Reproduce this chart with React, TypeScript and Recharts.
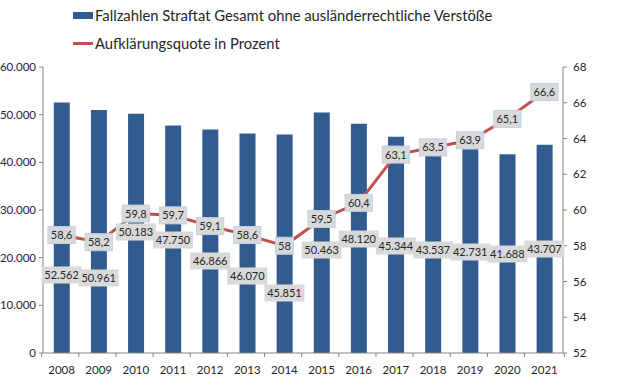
import {
  ComposedChart,
  Bar,
  Line,
  XAxis,
  YAxis,
  LabelList
} from 'recharts';

const years = ['2008', '2009', '2010', '2011', '2012', '2013', '2014', '2015', '2016', '2017', '2018', '2019', '2020', '2021'];
const cases = [52562, 50961, 50183, 47750, 46866, 46070, 45851, 50463, 48120, 45344, 43537, 42731, 41688, 43707];
const quote = [58.6, 58.2, 59.8, 59.7, 59.1, 58.6, 58, 59.5, 60.4, 63.1, 63.5, 63.9, 65.1, 66.6];
const leftTicks = [0, 10000, 20000, 30000, 40000, 50000, 60000];
const rightTicks = [52, 54, 56, 58, 60, 62, 64, 66, 68];

// hand placed label rows (pixel centre), like the excel original
const caseLabelY = [275, 278, 232, 240, 261, 276, 293, 250, 239, 246, 250, 252, 254, 249];

const data = years.map((y, i) => ({ year: y, cases: cases[i], quote: quote[i] }));

const FONT = 'Lato, "Open Sans", sans-serif';
const AXIS = '#868686';
const BLUE = '#325C8F';
const RED = '#C0504D';
const LABEL_FS = 11;

const PLOT_LEFT = 43;
const PLOT_RIGHT = 600;
const BAND = (PLOT_RIGHT - PLOT_LEFT) / years.length;

const fmt = (v: number) => v.toLocaleString('de-DE');
const fmtPct = (v: number) => String(v).replace('.', ',');

// rough text width for the label boxes
const textW = (s: string) =>
  s.split('').reduce((w, c) => w + (/[0-9]/.test(c) ? 0.58 : 0.28) * LABEL_FS, 0);

function Box({ cx, cy, text, border }: { cx: number; cy: number; text: string; border?: boolean }) {
  const w = textW(text) + 5;
  const h = 17;
  return (
    <g>
      <rect
        x={cx - w / 2}
        y={cy - h / 2}
        width={w}
        height={h}
        fill="#D9D9D9"
        stroke={border ? '#BFD0E6' : 'none'}
        strokeWidth={1}
      />
      <text x={cx} y={cy + 4} textAnchor="middle" fontSize={LABEL_FS} fontFamily={FONT} fill="#262626">
        {text}
      </text>
    </g>
  );
}

const QuoteLabel = (props: any) => {
  const { x, y, value } = props;
  return <Box cx={x} cy={y} text={fmtPct(value)} border />;
};

// drawn from an invisible line on the left axis so the boxes sit above the red line
const CaseLabel = (props: any) => {
  const { x, value, index } = props;
  return <Box cx={x} cy={caseLabelY[index]} text={fmt(value)} />;
};

const XTick = (props: any) => {
  const { x, y, payload, index } = props;
  const left = x - BAND / 2;
  return (
    <g>
      <line x1={left} y1={y - 8} x2={left} y2={y - 4} stroke={AXIS} />
      {index === years.length - 1 && (
        <line x1={x + BAND / 2} y1={y - 8} x2={x + BAND / 2} y2={y - 4} stroke={AXIS} />
      )}
      <text x={x} y={y + 13} textAnchor="middle" fontSize={11.5} fontFamily={FONT} fill="#262626">
        {payload.value}
      </text>
    </g>
  );
};

export default function App() {
  return (
    <div style={{ position: 'fixed', left: 0, top: 0, width: 637, height: 386, background: '#fff' }}>
      <div
        style={{
          position: 'absolute',
          left: 73,
          top: 1,
          fontFamily: FONT,
          fontSize: 14.8,
          color: '#262626',
          lineHeight: '28px'
        }}
      >
        <div style={{ display: 'flex', alignItems: 'center' }}>
          <span style={{ display: 'inline-block', width: 20, height: 7, background: BLUE, marginRight: 2 }} />
          Fallzahlen Straftat Gesamt ohne ausländerrechtliche Verstöße
        </div>
        <div style={{ display: 'flex', alignItems: 'center' }}>
          <span style={{ display: 'inline-block', width: 20, height: 3, background: RED, marginRight: 2 }} />
          Aufklärungsquote in Prozent
        </div>
      </div>
      <ComposedChart
        width={637}
        height={386}
        data={data}
        margin={{ top: 67, right: 637 - PLOT_RIGHT, left: 0, bottom: 3 }}
        barCategoryGap="29%"
      >
        <XAxis
          dataKey="year"
          height={30}
          stroke={AXIS}
          tickLine={false}
          tick={<XTick />}
          interval={0}
        />
        <YAxis
          yAxisId="left"
          width={PLOT_LEFT}
          domain={[0, 60000]}
          ticks={leftTicks}
          tickFormatter={fmt}
          stroke={AXIS}
          tickSize={4}
          tickMargin={3}
          tick={{ fontSize: 11.5, fontFamily: FONT, fill: '#262626' }}
        />
        <YAxis
          yAxisId="right"
          orientation="right"
          width={637 - PLOT_RIGHT}
          domain={[52, 68]}
          ticks={rightTicks}
          stroke={AXIS}
          tickSize={4}
          tickMargin={6}
          tick={{ fontSize: 11.5, fontFamily: FONT, fill: '#262626' }}
        />
        <Bar yAxisId="left" dataKey="cases" fill={BLUE} isAnimationActive={false} />
        <Line
          yAxisId="right"
          dataKey="quote"
          stroke={RED}
          strokeWidth={3}
          dot={false}
          type="linear"
          isAnimationActive={false}
        />
        <Line
          yAxisId="left"
          dataKey="cases"
          stroke="none"
          dot={false}
          activeDot={false}
          legendType="none"
          isAnimationActive={false}
        >
          <LabelList dataKey="cases" content={<CaseLabel />} />
        </Line>
        <Line
          yAxisId="right"
          dataKey="quote"
          stroke="none"
          dot={false}
          activeDot={false}
          legendType="none"
          isAnimationActive={false}
        >
          <LabelList dataKey="quote" content={<QuoteLabel />} />
        </Line>
      </ComposedChart>
    </div>
  );
}
